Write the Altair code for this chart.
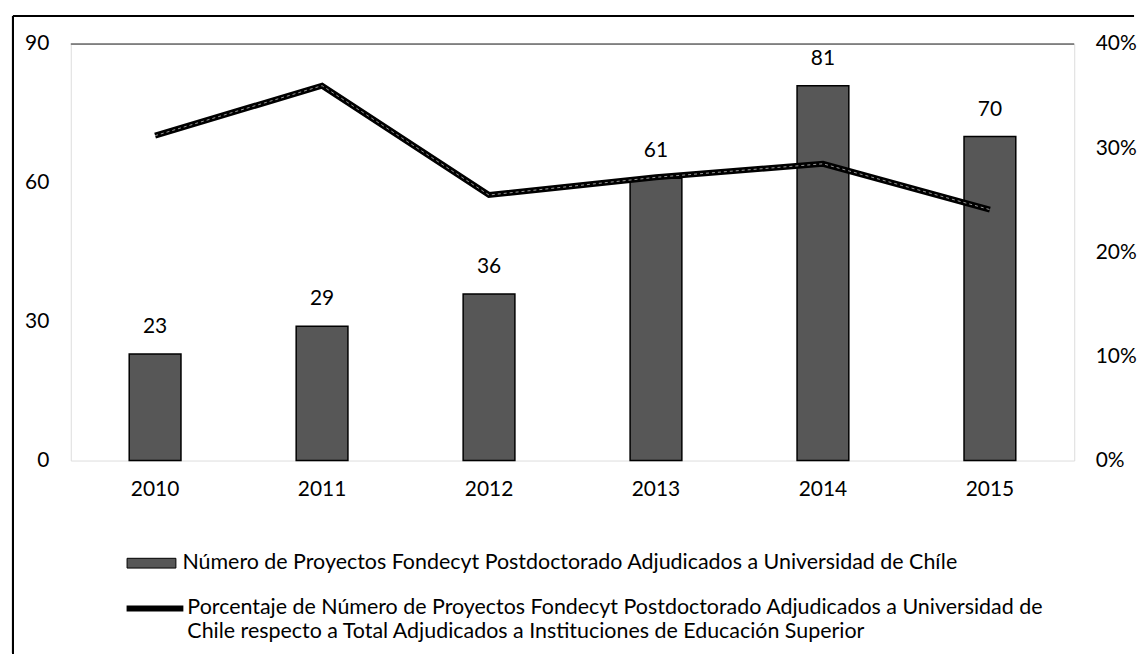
import altair as alt
import pandas as pd

years = ["2010", "2011", "2012", "2013", "2014", "2015"]
proyectos = [23, 29, 36, 61, 81, 70]
porcentaje = [0.312, 0.360, 0.255, 0.272, 0.285, 0.241]
left_ticks = [0, 30, 60, 90]
right_ticks = [0, 0.1, 0.2, 0.3, 0.4]
bar_label = "Número de Proyectos Fondecyt Postdoctorado Adjudicados a Universidad de Chíle"
line_label = ("Porcentaje de Número de Proyectos Fondecyt Postdoctorado Adjudicados a Universidad de"
              "|Chile respecto a Total Adjudicados a Instituciones de Educación Superior")

df = pd.DataFrame({
    "year": years,
    "count": proyectos,
    "pct": porcentaje,
    "serie_bar": [bar_label] * len(years),
    "serie_line": [line_label] * len(years),
})

FONT = "Lato"
FS = 21
LFS = 21.5

x_enc = alt.X("year:N", title=None, sort=years,
              scale=alt.Scale(paddingInner=0.69, paddingOuter=0.35),
              axis=alt.Axis(labelAngle=0, ticks=False, domain=False, labelPadding=18,
                            labelFontSize=FS, labelFont=FONT, labelColor="black"))

base = alt.Chart(df)

bars = base.mark_bar(stroke="black", strokeWidth=1.5).encode(
    x=x_enc,
    y=alt.Y("count:Q", title=None, scale=alt.Scale(domain=[0, 90]),
            axis=alt.Axis(values=left_ticks, ticks=False, domain=False, grid=False,
                          labelPadding=22, labelFontSize=FS, labelFont=FONT, labelColor="black")),
    fill=alt.Fill("serie_bar:N",
                  scale=alt.Scale(domain=[bar_label], range=["#575757"]),
                  legend=alt.Legend(title=None, orient="none", legendX=56, legendY=496,
                                    symbolType="M-1,-0.2H1V0.2H-1Z", symbolSize=2401,
                                    symbolStrokeColor="black", symbolStrokeWidth=1,
                                    labelOffset=6, labelLimit=1100, padding=0,
                                    labelFontSize=LFS, labelFont=FONT, labelColor="black")),
)

labels = base.mark_text(dy=-27, baseline="middle", fontSize=FS, font=FONT, color="black").encode(
    x=alt.X("year:N", sort=years),
    y=alt.Y("count:Q"),
    text=alt.Text("count:Q"),
)

top_rule = alt.Chart(pd.DataFrame({"v": [90]})).mark_rule(color="#222", strokeWidth=1.2).encode(
    y=alt.Y("v:Q")
)

line = base.mark_line(strokeWidth=6, strokeJoin="miter").encode(
    x=alt.X("year:N", sort=years),
    y=alt.Y("pct:Q", title=None, scale=alt.Scale(domain=[0, 0.4]),
            axis=alt.Axis(orient="right", values=right_ticks, format=".0%", ticks=False,
                          domain=False, grid=False, labelPadding=21,
                          labelFontSize=FS, labelFont=FONT, labelColor="black")),
    stroke=alt.Stroke("serie_line:N",
                      scale=alt.Scale(domain=[line_label], range=["black"]),
                      legend=alt.Legend(title=None, orient="none", legendX=53, legendY=535,
                                        symbolType="M-1,0L1,0", symbolSize=3249,
                                        symbolStrokeWidth=6, labelOffset=1, labelLimit=1100,
                                        padding=0, labelExpr="split(datum.label, '|')",
                                        labelFontSize=LFS, labelFont=FONT, labelColor="black")),
)

line_inner = base.mark_line(strokeWidth=1, color="#9a9a9a", strokeDash=[3, 3]).encode(
    x=alt.X("year:N", sort=years),
    y=alt.Y("pct:Q"),
)

left_layer = alt.layer(bars, labels, top_rule)
right_layer = alt.layer(line, line_inner)

frame_left = alt.Chart(df).mark_rule(color="black", strokeWidth=2).encode(
    x=alt.value(-58), y=alt.value(-28), y2=alt.value(612)
)
frame_top = alt.Chart(df).mark_rule(color="black", strokeWidth=2).encode(
    x=alt.value(-58), x2=alt.value(1067), y=alt.value(-28)
)

chart = alt.layer(left_layer, right_layer, frame_left, frame_top).resolve_scale(
    y="independent", fill="independent", stroke="independent"
).properties(
    width=1007, height=418,
    padding={"left": 4, "top": 6, "right": 0, "bottom": 0},
).configure_view(stroke=None).configure(font=FONT)

chart.save("out.html", embed_options={"renderer": "svg", "actions": False})
